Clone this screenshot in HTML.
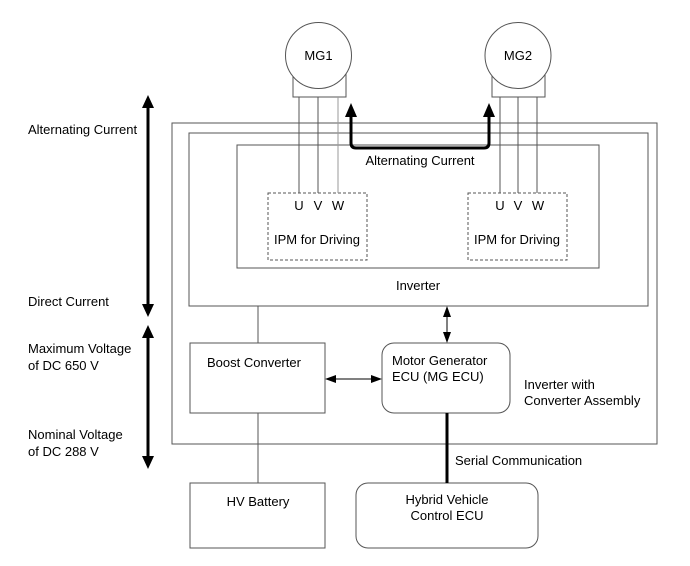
<!DOCTYPE html>
<html><head><style>
body{margin:0;background:#fff;}
svg text{font-family:"Liberation Sans",Arial,sans-serif;font-size:13px;fill:#000;}
</style></head><body>
<svg width="690" height="561" viewBox="0 0 690 561" xmlns="http://www.w3.org/2000/svg">
<g fill="none" stroke="#555" stroke-width="1">
<rect x="172" y="123" width="485" height="321"/>
<rect x="189" y="133" width="459" height="173"/>
<rect x="237" y="145" width="362" height="123"/>
<rect x="268" y="193" width="99" height="67" stroke-dasharray="3,2"/>
<rect x="468" y="193" width="99" height="67" stroke-dasharray="3,2"/>
<rect x="293" y="70" width="53" height="27" fill="#fff"/>
<circle cx="318.5" cy="55.5" r="33" fill="#fff"/>
<rect x="492" y="70" width="53" height="27" fill="#fff"/>
<circle cx="518" cy="55.5" r="33" fill="#fff"/>
<line x1="299" y1="97" x2="299" y2="193"/>
<line x1="318" y1="97" x2="318" y2="193"/>
<line x1="338" y1="97" x2="338" y2="193" stroke="#999"/>
<line x1="500" y1="97" x2="500" y2="193"/>
<line x1="518" y1="97" x2="518" y2="193"/>
<line x1="537" y1="97" x2="537" y2="193"/>
<rect x="190" y="343" width="135" height="70"/>
<rect x="190" y="483" width="135" height="65"/>
<rect x="382" y="343" width="128" height="70" rx="12"/>
<rect x="356" y="483" width="182" height="65" rx="12"/>
<line x1="258" y1="306" x2="258" y2="343"/>
<line x1="258" y1="413" x2="258" y2="483"/>
</g>
<g stroke="#000" stroke-width="1" fill="none">
<line x1="336" y1="379" x2="372" y2="379"/>
<line x1="447" y1="316" x2="447" y2="333"/>
</g>
<path d="M325,379 L336,375 L336,383 z M382,379 L371,375 L371,383 z" fill="#000"/>
<path d="M447,306 L443,317 L451,317 z M447,343 L443,332 L451,332 z" fill="#000"/>
<line x1="447" y1="413" x2="447" y2="483" stroke="#000" stroke-width="3"/>
<path d="M351,116 L351,143 Q351,148 356,148 L484,148 Q489,148 489,143 L489,116" fill="none" stroke="#000" stroke-width="3"/>
<path d="M351,103 L345,117 L357,117 z M489,103 L483,117 L495,117 z" fill="#000"/>
<line x1="148" y1="106" x2="148" y2="306" stroke="#000" stroke-width="3"/>
<path d="M148,95 L142,108 L154,108 z M148,317 L142,304 L154,304 z" fill="#000"/>
<line x1="148" y1="336" x2="148" y2="457" stroke="#000" stroke-width="3"/>
<path d="M148,325 L142,338 L154,338 z M148,469 L142,456 L154,456 z" fill="#000"/>
<text x="318.5" y="60" text-anchor="middle">MG1</text>
<text x="518" y="60" text-anchor="middle">MG2</text>
<text x="420" y="165" text-anchor="middle">Alternating Current</text>
<text x="299" y="210" text-anchor="middle">U</text>
<text x="318" y="210" text-anchor="middle">V</text>
<text x="338" y="210" text-anchor="middle">W</text>
<text x="500" y="210" text-anchor="middle">U</text>
<text x="518" y="210" text-anchor="middle">V</text>
<text x="538" y="210" text-anchor="middle">W</text>
<text x="317" y="244" text-anchor="middle">IPM for Driving</text>
<text x="517" y="244" text-anchor="middle">IPM for Driving</text>
<text x="418" y="290" text-anchor="middle">Inverter</text>
<text x="207" y="367">Boost Converter</text>
<text x="258" y="506" text-anchor="middle">HV Battery</text>
<text x="392" y="365">Motor Generator</text>
<text x="392" y="381">ECU (MG ECU)</text>
<text x="447" y="504" text-anchor="middle">Hybrid Vehicle</text>
<text x="447" y="520" text-anchor="middle">Control ECU</text>
<text x="524" y="389">Inverter with</text>
<text x="524" y="405">Converter Assembly</text>
<text x="455" y="465">Serial Communication</text>
<text x="28" y="134">Alternating Current</text>
<text x="28" y="306">Direct Current</text>
<text x="28" y="353">Maximum Voltage</text>
<text x="28" y="370">of DC 650 V</text>
<text x="28" y="439">Nominal Voltage</text>
<text x="28" y="456">of DC 288 V</text>
</svg>
</body></html>
